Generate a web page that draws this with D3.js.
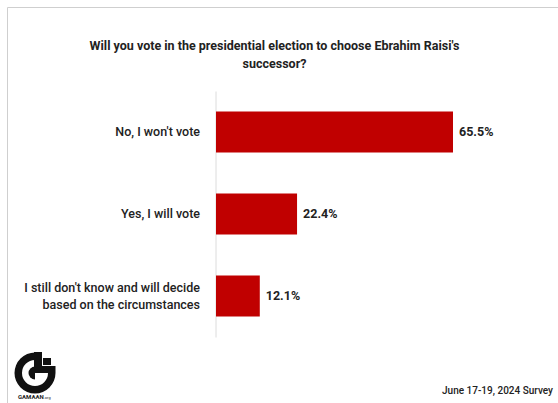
<!DOCTYPE html>
<html>
<head>
<meta charset="utf-8">
<script src="https://cdn.jsdelivr.net/npm/d3@7"></script>
<style>
  body { margin: 0; background: #fff; }
  text { font-family: Roboto, "Noto Sans", sans-serif; }
</style>
</head>
<body>
<div id="chart"></div>
<script>
// Data
//= ================================
var categories = [
  "No, I won't vote",
  "Yes, I will vote",
  "I still don't know and will decide|based on the circumstances"
];
var values = [65.5, 22.4, 12.1];
var titleLines = [
  "Will you vote in the presidential election to choose Ebrahim Raisi's",
  "successor?"
];
var sourceText = "June 17-19, 2024 Survey";
var logoText = "GAMAAN";
var logoSuffix = ".org";

// Set up the chart
//= ================================
var svgWidth = 558;
var svgHeight = 403;

var svg = d3.select("#chart")
  .append("svg")
  .attr("width", svgWidth)
  .attr("height", svgHeight);

// frame lines (top + left)
svg.append("path")
  .attr("d", "M7.5,403 V7.5 H558")
  .attr("fill", "none")
  .attr("stroke", "#cfcfcf")
  .attr("stroke-width", 1);

// title
svg.append("g").selectAll("text")
  .data(titleLines)
  .enter()
  .append("text")
  .attr("x", 274.5)
  .attr("y", (d, i) => 50 + i * 18)
  .attr("text-anchor", "middle")
  .attr("font-size", "12.5px")
  .attr("font-weight", "bold")
  .attr("fill", "#222")
  .text(d => d);

// scales
var xScale = d3.scaleLinear()
  .domain([0, 65.5])
  .range([216, 453]);

var yScale = d3.scaleBand()
  .domain(categories)
  .range([91, 337])
  .paddingInner(0.5)
  .paddingOuter(0.25);

// y axis: just the vertical line, labels drawn by hand
var leftAxis = d3.axisLeft(yScale).tickSize(0).tickFormat("");
var yAxis = svg.append("g")
  .attr("transform", `translate(${xScale(0) - 0.5},0)`)
  .call(leftAxis);
yAxis.select(".domain").attr("stroke", "#dcdcdc");

// bars
svg.selectAll("rect.bar")
  .data(values)
  .enter()
  .append("rect")
  .attr("class", "bar")
  .attr("x", xScale(0))
  .attr("y", (d, i) => yScale(categories[i]))
  .attr("width", d => xScale(d) - xScale(0))
  .attr("height", yScale.bandwidth())
  .attr("fill", "#c00000");

// value labels
svg.selectAll("text.value")
  .data(values)
  .enter()
  .append("text")
  .attr("class", "value")
  .attr("x", d => xScale(d) + 6)
  .attr("y", (d, i) => yScale(categories[i]) + yScale.bandwidth() / 2)
  .attr("dy", "0.35em")
  .attr("font-size", "12.5px")
  .attr("font-weight", "bold")
  .attr("fill", "#222")
  .text(d => d3.format(".1f")(d) + "%");

// category labels
var catLabels = svg.selectAll("text.cat")
  .data(categories)
  .enter()
  .append("text")
  .attr("class", "cat")
  .attr("x", 200)
  .attr("y", d => yScale(d) + yScale.bandwidth() / 2)
  .attr("text-anchor", "end")
  .attr("font-size", "12.5px")
  .attr("font-weight", "500")
  .attr("fill", "#222");

catLabels.each(function (d) {
  var lines = d.split("|");
  var lh = 17;
  var el = d3.select(this);
  lines.forEach(function (line, i) {
    el.append("tspan")
      .attr("x", 200)
      .attr("dy", i === 0 ? (0.35 * 12.5 - (lines.length - 1) * lh / 2) + "px" : lh + "px")
      .text(line);
  });
});

// footer source
svg.append("text")
  .attr("x", 553)
  .attr("y", 394)
  .attr("text-anchor", "end")
  .attr("font-size", "10px")
  .attr("font-weight", "500")
  .attr("fill", "#222")
  .text(sourceText);

// logo
var logo = svg.append("g").attr("transform", "translate(35,373)");
var ring = d3.arc()
  .innerRadius(13)
  .outerRadius(20.5)
  .startAngle(Math.PI / 2)
  .endAngle(2 * Math.PI);
logo.append("path").attr("d", ring()).attr("fill", "#111");
// inner bar of the G
logo.append("path")
  .attr("d", d3.arc().innerRadius(0).outerRadius(6.5).startAngle(Math.PI).endAngle(2 * Math.PI)())
  .attr("fill", "#111");
logo.append("rect").attr("x", -1).attr("y", -21).attr("width", 8).attr("height", 21).attr("fill", "#111");
logo.append("rect").attr("x", 8).attr("y", -15).attr("width", 8).attr("height", 7).attr("fill", "#111");
logo.append("rect").attr("x", -1).attr("y", -7).attr("width", 21.5).attr("height", 7).attr("fill", "#111");

logo.append("text")
  .attr("x", -17)
  .attr("y", 26)
  .attr("font-size", "6px")
  .attr("font-weight", "bold")
  .attr("fill", "#222")
  .text(logoText)
  .append("tspan")
  .attr("font-size", "4px")
  .attr("font-weight", "normal")
  .text(logoSuffix);
</script>
</body>
</html>
